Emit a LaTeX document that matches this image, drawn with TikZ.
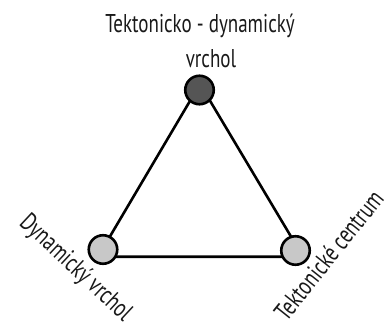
\documentclass[tikz,border=0pt]{standalone}
\usepackage{fontspec}
\newfontfamily\lblfont[FakeStretch=0.74]{PT Sans}
\tikzset{
  edge/.style={line width=2.6pt},
  vert/.style={circle, draw=black, line width=2.6pt, minimum size=28.5pt, inner sep=0pt},
  topvert/.style={vert, fill=gray55},
  basevert/.style={vert, fill=gray200},
  lbl/.style={font=\lblfont\fontsize{25.7}{35}\selectfont, inner sep=0pt, text=black!90}
}
\definecolor{gray55}{HTML}{555555}
\definecolor{gray200}{HTML}{C8C8C8}
\begin{document}
\begin{tikzpicture}[x=1pt,y=-1pt]
\useasboundingbox (0,0) rectangle (388,331);
% triangle corners
\coordinate (A) at (200,84);
\coordinate (B) at (98,256.7);
\coordinate (C) at (303,256.7);
\draw[edge] (A) -- (B) -- (C) -- cycle;
% vertices
\node[topvert] (top) at (199.5,90) {};
\node[basevert] (left) at (103,249.5) {};
\node[basevert] (right) at (295.5,250.5) {};
% labels
\node[lbl, anchor=base] (t1) at (200,32.3) {Tektonicko - dynamický};
\node[lbl, anchor=base] (t2) at (211,67.3) {vrchol};
\node[lbl, anchor=base, rotate=-43] (ll) at (70.8,273.3) {Dynamický vrchol};
\node[lbl, anchor=base, rotate=51.4] (rl) at (335.8,260.8) {Tektonické centrum};
\end{tikzpicture}
\end{document}
